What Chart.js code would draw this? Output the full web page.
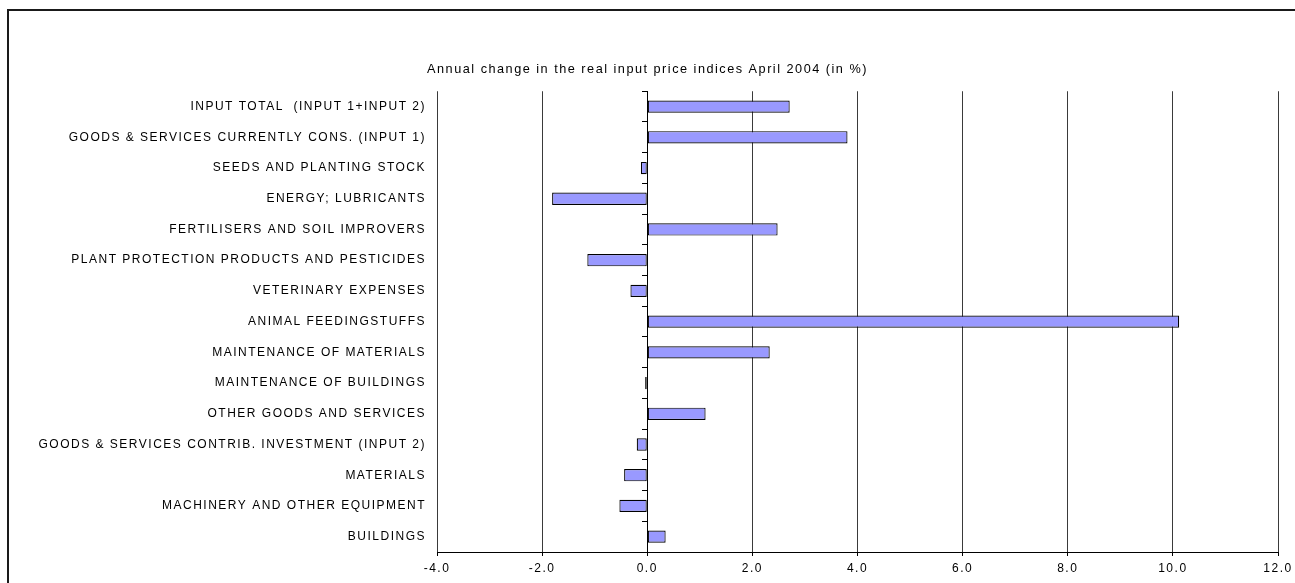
<!DOCTYPE html>
<html>
<head>
<meta charset="utf-8">
<title>Annual change in the real input price indices April 2004</title>
<script src="https://cdn.jsdelivr.net/npm/chart.js@4/dist/chart.umd.min.js"></script>
<style>
  html, body { margin: 0; padding: 0; background: #ffffff; overflow: hidden; }
  #wrap { position: relative; width: 1295px; height: 583px; overflow: hidden; }
  #chart { position: absolute; left: 0; top: 0; }
  #frame {
    position: absolute; left: 7px; top: 9px; width: 1320px; height: 620px;
    border-left: 2px solid #1a1a1a; border-top: 2px solid #1a1a1a; pointer-events: none;
  }
</style>
</head>
<body>
<div id="wrap">
  <canvas id="chart" width="1295" height="583"></canvas>
  <div id="frame"></div>
</div>
<script>
// Input price categories (top to bottom)
const categories = [
  'INPUT TOTAL  (INPUT 1+INPUT 2)',
  'GOODS & SERVICES CURRENTLY CONS. (INPUT 1)',
  'SEEDS AND PLANTING STOCK',
  'ENERGY; LUBRICANTS',
  'FERTILISERS AND SOIL IMPROVERS',
  'PLANT PROTECTION PRODUCTS AND PESTICIDES',
  'VETERINARY EXPENSES',
  'ANIMAL FEEDINGSTUFFS',
  'MAINTENANCE OF MATERIALS',
  'MAINTENANCE OF BUILDINGS',
  'OTHER GOODS AND SERVICES',
  'GOODS & SERVICES CONTRIB. INVESTMENT (INPUT 2)',
  'MATERIALS',
  'MACHINERY AND OTHER EQUIPMENT',
  'BUILDINGS'
];

// Annual change, %
const changes = [2.71, 3.81, -0.12, -1.81, 2.48, -1.14, -0.32, 10.12, 2.33, -0.04, 1.11, -0.20, -0.44, -0.53, 0.35];

// Value axis ticks
const xTicks = [-4, -2, 0, 2, 4, 6, 8, 10, 12];

const titleText = 'Annual change in the real input price indices April 2004 (in %)';

const FONT = "'Liberation Sans', Arial, sans-serif";
const SPACING = '1.5px';

// Wide letter spacing for every text the chart measures and draws
const letterSpacingPlugin = {
  id: 'letterSpacing',
  beforeLayout(chart) { chart.ctx.letterSpacing = SPACING; },
  beforeDraw(chart) { chart.ctx.letterSpacing = SPACING; }
};

Chart.defaults.font.family = FONT;
Chart.defaults.font.size = 12;
Chart.defaults.color = '#000000';

new Chart(document.getElementById('chart'), {
  type: 'bar',
  data: {
    labels: categories,
    datasets: [{
      data: changes,
      backgroundColor: '#9999ff',
      borderColor: '#000000',
      borderWidth: 1.2,
      borderSkipped: false,
      barPercentage: 0.4,
      categoryPercentage: 1.0,
      yAxisID: 'y'
    }]
  },
  options: {
    indexAxis: 'y',
    responsive: false,
    animation: false,
    devicePixelRatio: 1,
    layout: { padding: 0 },
    plugins: {
      legend: { display: false },
      tooltip: { enabled: false },
      title: {
        display: true,
        text: titleText,
        color: '#000000',
        font: { family: FONT, size: 12.7, weight: 'normal' },
        padding: { top: 62, bottom: 14 }
      }
    },
    scales: {
      x: {
        type: 'linear',
        position: 'bottom',
        min: -4,
        max: 12,
        afterBuildTicks(scale) { scale.ticks = xTicks.map(v => ({ value: v })); },
        afterFit(scale) {
          scale.height = 31;
          scale.paddingLeft = 0;
          scale.paddingRight = 17;
        },
        ticks: {
          padding: 5,
          font: { family: FONT, size: 12 },
          color: '#000000',
          callback: v => Number(v).toFixed(1)
        },
        grid: {
          color: '#3a3a3a',
          lineWidth: 1,
          drawTicks: true,
          tickLength: 4,
          tickColor: '#000000'
        },
        border: { display: true, color: '#000000', width: 1 }
      },
      y: {
        type: 'category',
        position: 'left',
        afterFit(scale) { scale.width = 437; },
        ticks: {
          padding: 11,
          font: { family: FONT, size: 12 },
          color: '#000000',
          autoSkip: false
        },
        grid: { display: false, drawTicks: false },
        border: { display: false }
      },
      // Category axis running through zero, with boundary tick marks
      zero: {
        axis: 'y',
        type: 'category',
        position: { x: 0 },
        offset: true,
        ticks: { display: false, autoSkip: false },
        grid: {
          offset: true,
          drawOnChartArea: false,
          drawTicks: true,
          tickLength: 5,
          color: '#000000',
          tickColor: '#000000'
        },
        border: { display: true, color: '#000000', width: 1 }
      }
    }
  },
  plugins: [letterSpacingPlugin]
});
</script>
</body>
</html>
